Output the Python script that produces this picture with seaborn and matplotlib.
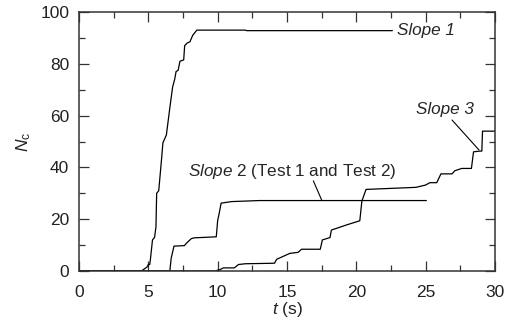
import matplotlib
matplotlib.use("Agg")
import matplotlib.pyplot as plt
import seaborn as sns
import pandas as pd
from matplotlib.ticker import MultipleLocator

# ---- data ----
slope1_t = [0, 4.5, 4.9, 5.0, 5.1, 5.15, 5.3, 5.45, 5.55, 5.6, 5.75, 5.95, 6.05, 6.3, 6.55,
            6.75, 6.9, 7.0, 7.15, 7.28, 7.55, 7.62, 7.8, 8.0, 8.2, 8.5, 12.0, 12.1, 22.6]
slope1_n = [0, 0, 1.5, 2.5, 2.5, 4.5, 12, 13, 17, 30, 31, 43, 49.5, 52.5, 63,
            71, 74, 77, 77.5, 81, 81.5, 87, 88, 88.5, 91, 93, 93, 92.8, 92.8]

slope2_t = [0, 6.55, 6.65, 6.85, 7.6, 7.8, 8.1, 8.3, 9.9, 10.0, 10.1, 10.25, 11.0, 13.0, 25.05]
slope2_n = [0, 0, 5, 9.6, 9.8, 11, 12.5, 12.8, 13.2, 19.5, 22, 26.2, 26.8, 27.2, 27.2]

slope3_t = [0, 9.8, 10.2, 10.4, 11.2, 11.5, 12.0, 14.1, 14.25, 15.2, 15.8, 16.05, 17.4, 17.55,
            18.1, 18.2, 19.3, 20.25, 20.4, 20.7, 24.3, 25.0, 25.3, 25.8, 26.1, 26.9, 27.1,
            27.6, 28.3, 28.45, 28.9, 29.05, 29.1, 30]
slope3_n = [0, 0, 0.6, 1.2, 1.2, 2.5, 2.8, 3.0, 4.5, 6.8, 7.2, 8.4, 8.4, 12,
            12.9, 15.8, 17.8, 19.4, 27, 31.5, 32.3, 33.2, 34.1, 34.1, 37.5, 37.5, 38.7,
            39.6, 39.6, 46, 46.3, 46.3, 54, 54]

x_ticks = [0, 5, 10, 15, 20, 25, 30]
y_ticks = [0, 20, 40, 60, 80, 100]

sns.set_style("ticks")
plt.rcParams["font.family"] = ["Liberation Sans", "DejaVu Sans"]
plt.rcParams["mathtext.fontset"] = "custom"
plt.rcParams["mathtext.rm"] = "Liberation Sans"
plt.rcParams["mathtext.it"] = "Liberation Sans:italic"

fig = plt.figure(figsize=(5.11, 3.26), dpi=100)
ax = fig.add_axes([79/511, 1-271/326, (495-79)/511, (271-12)/326])

for t, n in [(slope1_t, slope1_n), (slope2_t, slope2_n), (slope3_t, slope3_n)]:
    df = pd.DataFrame({"t": t, "N": n})
    sns.lineplot(data=df, x="t", y="N", ax=ax, sort=False, estimator=None,
                 color="black", linewidth=0.9)

ax.set_xlim(0, 30)
ax.set_ylim(0, 100)
ax.set_xticks(x_ticks)
ax.set_yticks(y_ticks)
ax.xaxis.set_minor_locator(MultipleLocator(2.5))
ax.yaxis.set_minor_locator(MultipleLocator(10))
ax.tick_params(which="both", direction="in", top=True, right=True,
               color="#333333", width=0.9)
ax.tick_params(which="major", length=7.5, labelsize=12.5, labelcolor="#222222")
ax.tick_params(which="minor", length=4)
ax.tick_params(axis="x", pad=10)
ax.tick_params(axis="y", pad=7)
for s in ax.spines.values():
    s.set_color("#333333")
    s.set_linewidth(1.1)

ax.set_xlabel(r"$\mathit{t}$ (s)", fontsize=12.5, labelpad=0, color="#222222")
ax.set_ylabel(r"$\mathit{N}_{\mathrm{c}}$", fontsize=12.5, labelpad=5, color="#222222")

ax.text(22.9, 93, "Slope 1", style="italic", fontsize=12.3, va="center", ha="left")
ax.text(7.85, 38.5, r"$\mathit{Slope\ 2}$ (Test 1 and Test 2)", fontsize=12.3,
        va="center", ha="left")
ax.plot([16.9, 17.5], [34.8, 27.4], color="black", linewidth=0.8)
ax.text(28.5, 62.2, "Slope 3", style="italic", fontsize=12.3, va="center", ha="right")
ax.plot([26.9, 28.85], [58.3, 46.7], color="black", linewidth=0.8)

fig.savefig("out.png", dpi=100)
